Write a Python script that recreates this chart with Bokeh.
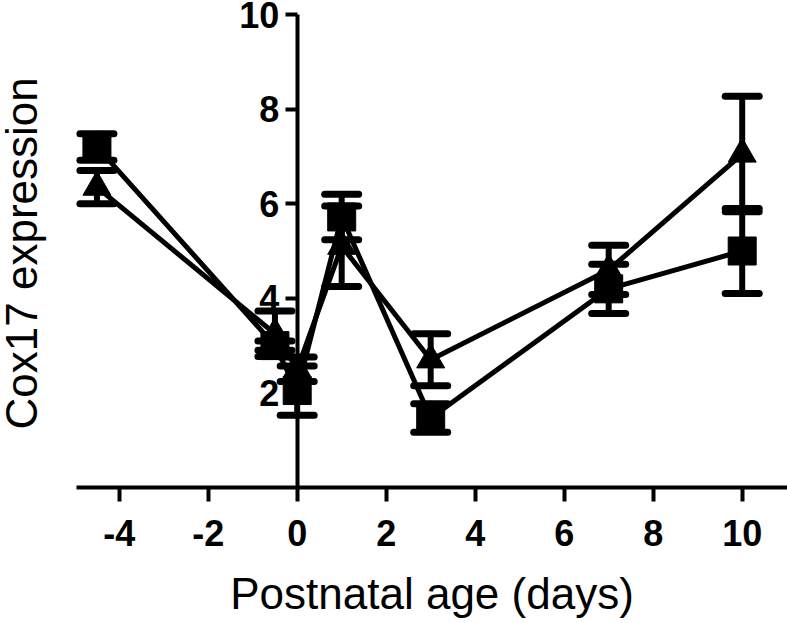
import math
from bokeh.plotting import figure
from bokeh.models import ColumnDataSource, Whisker, TeeHead, FixedTicker, Range1d, Label
from bokeh.embed import file_html
from bokeh.resources import INLINE

# ---- data ----
days = [-4.5, -0.5, 0, 1, 3, 7, 10]
square_mean = [7.2, 3.0, 2.05, 5.72, 1.47, 4.2, 5.0]
square_sem = [0.28, 0.1, 0.52, 0.48, 0.3, 0.52, 0.9]
triangle_mean = [6.35, 3.25, 2.5, 5.1, 2.7, 4.6, 7.05]
triangle_sem = [0.35, 0.48, 0.26, 0.85, 0.55, 0.52, 1.22]
x_ticks = [-4, -2, 0, 2, 4, 6, 8, 10]
y_ticks = [2, 4, 6, 8, 10]
x_title = "Postnatal age (days)"
y_title = "Cox17 expression"

FONT = "Liberation Sans"

# ---- layout constants (view window / axis extents, in data units) ----
X_VIEW = (-6.667, 11.018)
Y_VIEW = (-2.875, 10.296)
X_AXIS_BOUNDS = (-4.96, 11.02)
Y_AXIS_BOUNDS = (0, 10)
X_TITLE_Y = -2.24
Y_TITLE_X = -6.20

sq = ColumnDataSource(dict(
    x=days, y=square_mean,
    lo=[m - s for m, s in zip(square_mean, square_sem)],
    hi=[m + s for m, s in zip(square_mean, square_sem)]))
tr = ColumnDataSource(dict(
    x=days, y=triangle_mean,
    lo=[m - s for m, s in zip(triangle_mean, triangle_sem)],
    hi=[m + s for m, s in zip(triangle_mean, triangle_sem)]))

p = figure(width=787, height=623,
           x_range=Range1d(*X_VIEW), y_range=Range1d(*Y_VIEW),
           output_backend="svg", toolbar_location=None,
           min_border_left=0, min_border_right=0,
           min_border_top=0, min_border_bottom=0)
p.outline_line_color = None
p.grid.visible = False
p.background_fill_color = "white"
p.border_fill_color = "white"

# x axis, crossing at y = 0
xa = p.xaxis[0]
xa.fixed_location = 0
xa.bounds = X_AXIS_BOUNDS
xa.ticker = FixedTicker(ticks=x_ticks)
xa.major_label_overrides = {t: str(t) for t in x_ticks}
xa.axis_line_width = 4
xa.axis_line_color = "black"
xa.major_tick_line_width = 4
xa.major_tick_line_color = "black"
xa.major_tick_out = 14
xa.major_tick_in = 0
xa.minor_tick_line_color = None
xa.major_label_text_font = FONT
xa.major_label_text_font_style = "bold"
xa.major_label_text_font_size = "36px"
xa.major_label_text_color = "black"
xa.major_label_standoff = 18

# y axis, crossing at x = 0
ya = p.yaxis[0]
ya.fixed_location = 0
ya.bounds = Y_AXIS_BOUNDS
ya.ticker = FixedTicker(ticks=y_ticks)
ya.axis_line_width = 4
ya.axis_line_color = "black"
ya.major_tick_line_width = 4
ya.major_tick_line_color = "black"
ya.major_tick_out = 12
ya.major_tick_in = 0
ya.minor_tick_line_color = None
ya.major_label_text_font = FONT
ya.major_label_text_font_style = "bold"
ya.major_label_text_font_size = "36px"
ya.major_label_text_color = "black"
ya.major_label_standoff = 6

# axis titles
p.add_layout(Label(x=sum(X_AXIS_BOUNDS) / 2, y=X_TITLE_Y, text=x_title,
                   text_font=FONT, text_font_size="44px", text_color="black",
                   text_align="center", text_baseline="middle"))
p.add_layout(Label(x=Y_TITLE_X, y=sum(Y_AXIS_BOUNDS) / 2 - 0.05, text=y_title,
                   angle=math.pi / 2,
                   text_font=FONT, text_font_size="44px", text_color="black",
                   text_align="center", text_baseline="middle"))

# error bars
for src in (tr, sq):
    w = Whisker(source=src, base="x", lower="lo", upper="hi",
                line_width=6, line_color="black", line_cap="round",
                upper_head=TeeHead(size=34, line_width=7, line_color="black", line_cap="round"),
                lower_head=TeeHead(size=34, line_width=7, line_color="black", line_cap="round"))
    p.add_layout(w)

# lines
p.line("x", "y", source=tr, line_width=5, line_color="black")
p.line("x", "y", source=sq, line_width=5, line_color="black")

# markers
p.scatter("x", "y", source=tr, marker="triangle", size=28, color="black")
p.scatter("x", "y", source=sq, marker="square", size=28, color="black")

open("out.html", "w").write(file_html(p, INLINE))
